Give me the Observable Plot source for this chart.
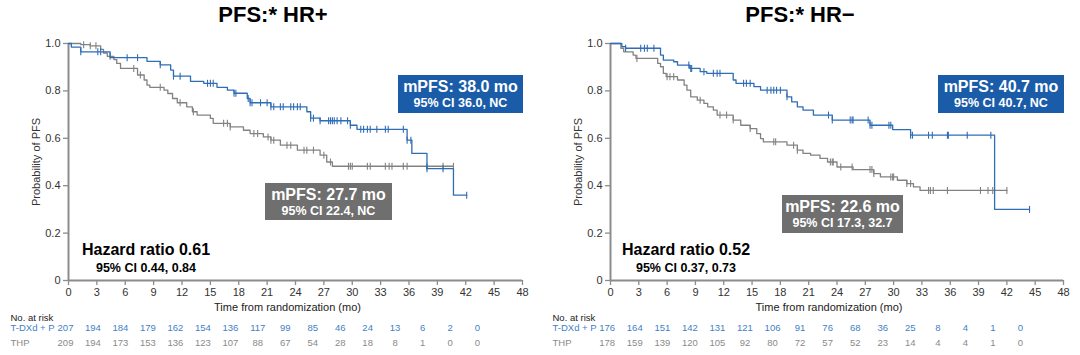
<!DOCTYPE html>
<html><head><meta charset="utf-8">
<script src="https://cdn.jsdelivr.net/npm/d3@7"></script>
<script src="https://cdn.jsdelivr.net/npm/@observablehq/plot@0.6"></script>
<style>
body{margin:0;background:#fff;font-family:"Liberation Sans",Arial,sans-serif;}
#root{position:relative;width:1080px;height:355px;overflow:hidden;background:#fff;}
.abs{position:absolute;}
.title{font-weight:bold;font-size:22px;line-height:26px;color:#000;text-align:center;width:300px;}
.box{color:#fff;font-weight:bold;text-align:center;box-sizing:border-box;padding-top:3px;}
.box .l1{font-size:16px;line-height:18px;}
.box .l2{font-size:12.5px;line-height:14px;}
.hr{font-weight:bold;text-align:center;width:200px;color:#000;}
.hr .l1{font-size:16px;line-height:18px;}
.hr .l2{font-size:12.5px;line-height:18px;}
</style></head>
<body><div id="root"></div>
<script>
// ---------- data ----------
const xTicks = [0,3,6,9,12,15,18,21,24,27,30,33,36,39,42,45,48];
const yTicks = [0,0.2,0.4,0.6,0.8,1.0];
const riskTimes = [0,3,6,9,12,15,18,21,24,27,30,33,36,39,42,45];
const arms = ["T-DXd + P","THP"];

// HR+ panel
const hrpTitle = "PFS:* HR+";
const hrpBlueT = [0,0.3,1.3,4.4,8.3,9.7,10.8,11.1,12.9,14.3,15.7,16.8,17.5,18.9,19.2,21.4,25.2,25.6,26.6,29.8,30.5,35.8,36.3,37.9,40.7];
const hrpBlueS = [1,0.985,0.965,0.94,0.925,0.91,0.888,0.862,0.84,0.832,0.815,0.803,0.79,0.768,0.75,0.733,0.712,0.685,0.674,0.655,0.638,0.592,0.536,0.472,0.36];
const hrpBlueEnd = 42.1;
const hrpBlueCens = [1.3,3.1,3.4,6.2,7.3,9.7,11.1,11.8,14.7,15.0,15.3,17.5,17.7,19.0,19.2,19.4,20.3,21.0,21.4,21.7,22.4,22.7,23.5,23.8,24.2,24.5,25.6,25.9,26.6,27.5,27.7,27.9,28.1,28.4,28.8,29.5,29.8,30.9,31.2,31.6,31.9,32.6,33.5,33.8,35.4,35.8,36.2,37.9,39.6,42.1];
const hrpGrayT = [0,1.3,2.3,3.4,3.7,4.1,4.8,5.1,5.5,7.3,8.0,8.3,8.6,10.1,10.5,11.0,11.5,12.5,13.1,13.6,15.0,15.3,17.1,18.5,19.2,20.6,21.4,22.4,24.2,26.6,27.3,27.9];
const hrpGrayS = [1,0.995,0.99,0.975,0.96,0.946,0.932,0.916,0.895,0.867,0.846,0.824,0.815,0.803,0.789,0.768,0.75,0.733,0.712,0.698,0.684,0.663,0.648,0.634,0.62,0.606,0.592,0.571,0.55,0.529,0.5,0.482];
const hrpGrayEnd = 40.7;
const hrpGrayCens = [1.6,2.3,2.9,4.4,6.9,7.6,9.7,11.8,13.2,16.4,16.8,17.1,19.6,20.0,21.1,21.4,21.7,23.1,23.5,24.9,25.2,25.9,27.0,27.7,29.6,29.8,30.0,31.6,31.9,33.5,33.9,34.2,35.4,35.8,37.9,39.6,40.7];
const hrpRiskBlue = [207,194,184,179,162,154,136,117,99,85,46,24,13,6,2,0];
const hrpRiskGray = [209,194,173,153,136,123,107,88,67,54,28,18,8,1,0,0];
const hrpBlueBox = ["mPFS: 38.0 mo","95% CI 36.0, NC"];
const hrpGrayBox = ["mPFS: 27.7 mo","95% CI 22.4, NC"];
const hrpHR = ["Hazard ratio 0.61","95% CI 0.44, 0.84"];

// HR- panel
const hrnTitle = "PFS:* HR\u2212";
const hrnBlueT = [0,1.2,1.6,5.3,5.6,6.7,7.1,8.4,9.5,10.2,13.0,13.3,15.2,15.9,18.7,19.2,19.8,20.4,21.5,23.5,27.5,29.9,31.8,40.7];
const hrnBlueS = [1,0.987,0.98,0.951,0.93,0.923,0.909,0.895,0.881,0.874,0.846,0.832,0.818,0.803,0.775,0.754,0.733,0.719,0.698,0.677,0.655,0.637,0.613,0.30];
const hrnBlueEnd = 44.4;
const hrnBlueCens = [1.6,3.2,3.6,3.9,4.6,8.3,8.5,8.6,9.9,10.9,11.3,11.6,14.1,14.4,14.8,16.6,17.0,17.3,17.6,18.0,18.7,23.1,23.5,25.4,25.6,25.7,27.3,27.5,27.7,29.5,29.7,31.8,32.0,33.7,34.1,35.7,35.8,37.8,40.3,44.4];
const hrnGrayT = [0,1.1,1.4,2.4,2.7,5.0,5.3,5.6,5.9,7.1,7.8,8.1,8.5,9.2,9.9,10.3,10.9,11.3,13.0,13.8,14.8,15.5,15.9,16.2,18.7,19.8,20.4,21.2,22.2,23.0,24.0,25.7,27.9,28.6,30.4,31.4,32.1,32.8];
const hrnGrayS = [1,0.98,0.965,0.951,0.937,0.916,0.902,0.874,0.86,0.846,0.824,0.803,0.775,0.761,0.747,0.733,0.719,0.698,0.677,0.655,0.641,0.62,0.599,0.585,0.571,0.55,0.536,0.529,0.515,0.5,0.479,0.468,0.451,0.437,0.423,0.409,0.395,0.38];
const hrnGrayEnd = 42.0;
const hrnGrayCens = [2.8,6.0,6.3,6.7,9.5,11.6,12.3,13.0,14.8,17.3,17.5,19.4,19.8,23.3,23.5,23.6,24.4,25.6,27.5,27.7,27.9,29.7,29.9,30.0,31.4,31.8,33.7,33.9,34.2,35.7,39.2,40.0,40.5,42.0];
const hrnRiskBlue = [176,164,151,142,131,121,106,91,76,68,36,25,8,4,1,0];
const hrnRiskGray = [178,159,139,120,105,92,80,72,57,52,23,14,4,4,1,0];
const hrnBlueBox = ["mPFS: 40.7 mo","95% CI 40.7, NC"];
const hrnGrayBox = ["mPFS: 22.6 mo","95% CI 17.3, 32.7"];
const hrnHR = ["Hazard ratio 0.52","95% CI 0.37, 0.73"];

const yLabel = "Probability of PFS";
const xLabel = "Time from randomization (mo)";
const riskHeader = "No. at risk";

// ---------- styles ----------
const BLUE = "#2f6db5", GRAY = "#828282";
const BOXBLUE = "#1b5ca8", BOXGRAY = "#6f6f6f";
const RISKBLUE = "#3f7fc6", RISKGRAY = "#8a8a8a";
const AXIS = "#8c8c8c";
const FONT = "'Liberation Sans', Arial, sans-serif";

const root = document.getElementById("root");

function kmPoints(ts, ss, end){
  const pts = ts.map((t,i)=>({t, s: ss[i]}));
  pts.push({t: end, s: ss[ss.length-1]});
  return pts;
}
function survAt(t, ts, ss){
  let s = ss[0];
  for (let i=0;i<ts.length;i++) if (ts[i] <= t) s = ss[i];
  return s;
}
const vbar = {draw(ctx){ ctx.moveTo(0,-3.5); ctx.lineTo(0,3.5); }};

function addDiv(cls, left, top, html, style){
  const d = document.createElement("div");
  d.className = "abs " + cls;
  d.style.left = left + "px"; d.style.top = top + "px";
  if (style) Object.assign(d.style, style);
  d.innerHTML = html;
  root.appendChild(d);
  return d;
}

function panel(o){
  addDiv("title", o.left + o.titleCx - 150, 2, o.title);

  const blue = kmPoints(o.blueT, o.blueS, o.blueEnd);
  const gray = kmPoints(o.grayT, o.grayS, o.grayEnd);
  const blueC = o.blueCens.map(t=>({t, s: survAt(t, o.blueT, o.blueS)}));
  const grayC = o.grayCens.map(t=>({t, s: survAt(t, o.grayT, o.grayS)}));

  const main = Plot.plot({
    width: 540, height: 320,
    marginLeft: o.ml, marginRight: o.mr, marginTop: 43, marginBottom: 40,
    style: {fontFamily: FONT, fontSize: "11px", background: "transparent"},
    x: {domain: [0,48], axis: null},
    y: {domain: [0,1], axis: null},
    marks: [
      Plot.axisX({ticks: xTicks, tickSize: 5, tickPadding: 3, stroke: AXIS, fill: "#333", fontSize: 11, label: null, strokeWidth: 1.3}),
      Plot.axisY({ticks: yTicks, tickSize: 5, tickPadding: 3, stroke: AXIS, fill: "#333", fontSize: 11,
        tickFormat: d => d === 0 ? "0" : d.toFixed(1),
        label: yLabel, labelAnchor: "center", labelArrow: "none", labelOffset: 36, strokeWidth: 1.3}),
      Plot.ruleX([0], {stroke: AXIS, strokeWidth: 2}),
      Plot.ruleY([0], {stroke: AXIS, strokeWidth: 2}),
      Plot.line(gray, {x: "t", y: "s", curve: "step-after", stroke: GRAY, strokeWidth: 1.3}),
      Plot.dot(grayC, {x: "t", y: "s", symbol: vbar, stroke: GRAY, strokeWidth: 1.1, r: 3}),
      Plot.line(blue, {x: "t", y: "s", curve: "step-after", stroke: BLUE, strokeWidth: 1.3}),
      Plot.dot(blueC, {x: "t", y: "s", symbol: vbar, stroke: BLUE, strokeWidth: 1.1, r: 3}),
      Plot.text([xLabel], {frameAnchor: "bottom", dy: 30, dx: -8, fill: "#222", fontSize: 11})
    ]
  });
  main.style.position = "absolute";
  main.style.left = o.left + "px";
  main.style.top = "0px";
  root.appendChild(main);

  const riskRows = [];
  riskTimes.forEach((t,i)=>{
    riskRows.push({t, arm: arms[0], n: o.riskBlue[i]});
    riskRows.push({t, arm: arms[1], n: o.riskGray[i]});
  });
  const risk = Plot.plot({
    width: 540, height: 50,
    marginLeft: 0, marginRight: 0, marginTop: 0, marginBottom: 0,
    style: {fontFamily: FONT, fontSize: "9.5px", background: "transparent"},
    x: {domain: [0,45], range: o.riskRange, axis: null},
    y: {type: "point", domain: arms, range: [22,37], padding: 0, axis: null},
    color: {domain: arms, range: [RISKBLUE, RISKGRAY]},
    marks: [
      Plot.text([riskHeader], {frameAnchor: "top-left", dx: o.riskDx, dy: 9, textAnchor: "start", fill: "#222", fontSize: 9.5}),
      Plot.text(arms, {y: d=>d, text: d=>d, frameAnchor: "left", dx: o.riskDx, textAnchor: "start", fill: d=>d, fontSize: 9.5}),
      Plot.text(riskRows, {x: "t", y: "arm", text: "n", fill: "arm", fontSize: 9.5})
    ]
  });
  risk.style.position = "absolute";
  risk.style.left = o.left + "px";
  risk.style.top = "305px";
  root.appendChild(risk);

  const bb = o.blueBoxPos, gb = o.grayBoxPos;
  addDiv("box", bb[0], bb[1], `<div class="l1">${o.blueBox[0]}</div><div class="l2">${o.blueBox[1]}</div>`,
    {width: bb[2]+"px", height: bb[3]+"px", background: BOXBLUE});
  addDiv("box", gb[0], gb[1], `<div class="l1">${o.grayBox[0]}</div><div class="l2">${o.grayBox[1]}</div>`,
    {width: gb[2]+"px", height: gb[3]+"px", background: BOXGRAY});
  addDiv("hr", o.hrCx - 100, 241, `<div class="l1">${o.hr[0]}</div><div class="l2">${o.hr[1]}</div>`);
}

panel({left: 0, titleCx: 273, title: hrpTitle, ml: 68, mr: 18,
  blueT: hrpBlueT, blueS: hrpBlueS, blueEnd: hrpBlueEnd, blueCens: hrpBlueCens,
  grayT: hrpGrayT, grayS: hrpGrayS, grayEnd: hrpGrayEnd, grayCens: hrpGrayCens,
  riskBlue: hrpRiskBlue, riskGray: hrpRiskGray, riskRange: [65,477], riskDx: 10,
  blueBox: hrpBlueBox, grayBox: hrpGrayBox, hr: hrpHR,
  blueBoxPos: [398,75,125,38], grayBoxPos: [265,183,127,37], hrCx: 146});

panel({left: 540, titleCx: 260, title: hrnTitle, ml: 70, mr: 17,
  blueT: hrnBlueT, blueS: hrnBlueS, blueEnd: hrnBlueEnd, blueCens: hrnBlueCens,
  grayT: hrnGrayT, grayS: hrnGrayS, grayEnd: hrnGrayEnd, grayCens: hrnGrayCens,
  riskBlue: hrnRiskBlue, riskGray: hrnRiskGray, riskRange: [66.7,480], riskDx: 12,
  blueBox: hrnBlueBox, grayBox: hrnGrayBox, hr: hrnHR,
  blueBoxPos: [938,75,126,38], grayBoxPos: [782,195,121,38], hrCx: 686});
</script>
</body></html>
